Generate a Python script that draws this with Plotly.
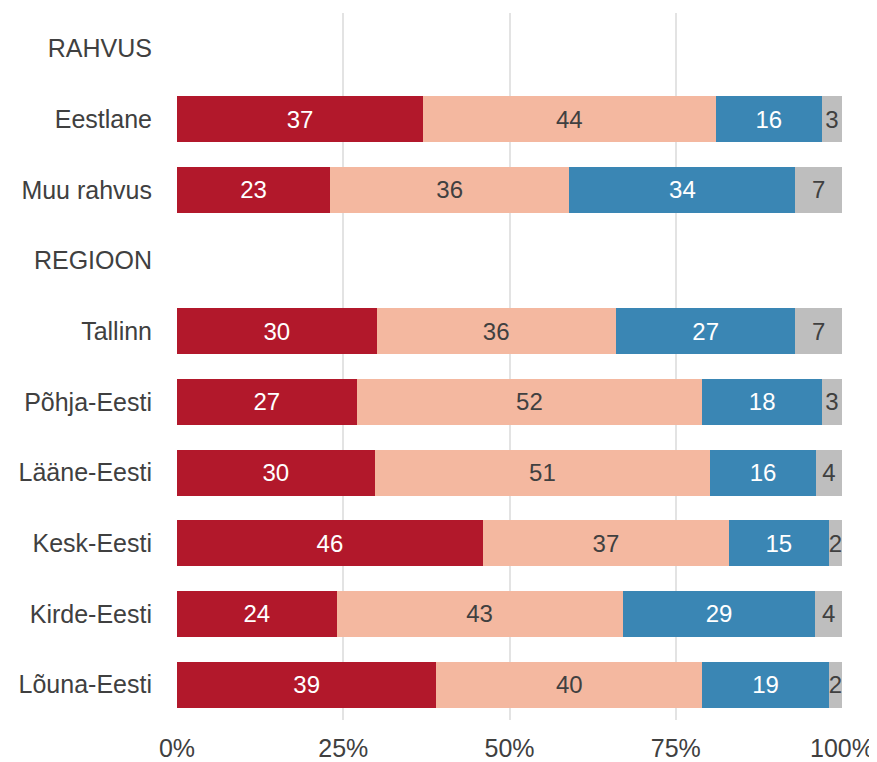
import plotly.graph_objects as go

categories = ["RAHVUS", "Eestlane", "Muu rahvus", "REGIOON", "Tallinn", "Põhja-Eesti",
              "Lääne-Eesti", "Kesk-Eesti", "Kirde-Eesti", "Lõuna-Eesti"]
s1 = [None, 37, 23, None, 30, 27, 30, 46, 24, 39]
s2 = [None, 44, 36, None, 36, 52, 51, 37, 43, 40]
s3 = [None, 16, 34, None, 27, 18, 16, 15, 29, 19]
s4 = [None, 3, 7, None, 7, 3, 4, 2, 4, 2]
x_ticks = [0, 25, 50, 75, 100]
x_tick_labels = ["0%", "25%", "50%", "75%", "100%"]

series = [
    (s1, "#B2182B", "white"),
    (s2, "#F4B8A0", "#404040"),
    (s3, "#3A86B4", "white"),
    (s4, "#BEBEBE", "#404040"),
]

FONT = "Liberation Sans, Arial"

fig = go.Figure()
for vals, col, tcol in series:
    fig.add_trace(go.Bar(
        y=categories, x=vals, orientation="h",
        marker=dict(color=col, line=dict(width=0)),
        text=[("" if v is None else str(v)) for v in vals],
        textposition="inside", insidetextanchor="middle", constraintext="none",
        textfont=dict(color=tcol, size=24, family=FONT),
        hoverinfo="skip", showlegend=False, cliponaxis=False,
    ))

# page body has an 8px default margin; figure sized so that it fills the window
fig.update_layout(
    barmode="stack", barnorm="percent", bargap=0.35,
    width=869, height=754,
    margin=dict(l=169, r=35, t=5, b=42, autoexpand=False),
    plot_bgcolor="white", paper_bgcolor="white",
    font=dict(family=FONT, size=25, color="#404040"),
)
fig.update_xaxes(range=[0, 100], tickvals=x_ticks, ticktext=x_tick_labels,
                 showgrid=True, gridcolor="#E3E3E3", gridwidth=1.5, zeroline=False,
                 ticks="outside", ticklen=6, tickcolor="rgba(0,0,0,0)",
                 tickfont=dict(size=25, color="#404040"), automargin=False, fixedrange=True)
fig.update_yaxes(categoryorder="array", categoryarray=categories, autorange="reversed",
                 showgrid=False, zeroline=False, ticks="outside", ticklen=19,
                 tickcolor="rgba(0,0,0,0)", tickfont=dict(size=25, color="#404040"),
                 automargin=False)

fig.write_html("out.html")
